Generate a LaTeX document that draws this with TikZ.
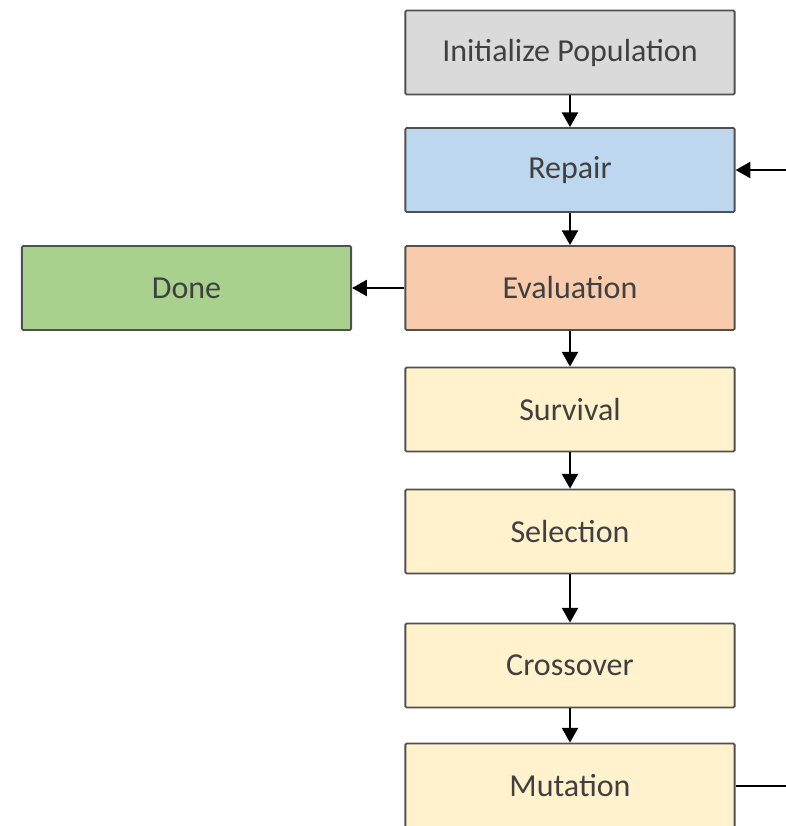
\documentclass[tikz,border=0pt]{standalone}
\usepackage{fontspec}
\setmainfont{Carlito}
\usetikzlibrary{arrows.meta}
\definecolor{boxline}{HTML}{505050}
\definecolor{boxtext}{HTML}{404040}
\definecolor{initfill}{HTML}{DADADA}
\definecolor{repairfill}{HTML}{BDD7EE}
\definecolor{evalfill}{HTML}{F8CBAD}
\definecolor{donefill}{HTML}{A9D18E}
\definecolor{opfill}{HTML}{FFF2CC}
\begin{document}
\begin{tikzpicture}[x=0.75pt, y=-0.75pt,
    stage/.style={draw=boxline, line width=1.4pt, rounded corners=1pt,
        minimum width=247pt, minimum height=63pt, inner sep=0pt,
        text=boxtext, font=\fontsize{24}{28}\selectfont},
    flow/.style={line width=1.5pt, -{Triangle[width=12pt,length=11pt]}}]
                \useasboundingbox (0,0) rectangle (786,826);

                \node[stage, fill=initfill] (init) at (570, 52.5) {Initialize Population};
                \node[stage, fill=repairfill] (repair) at (570, 170) {Repair};
                \node[stage, fill=evalfill] (eval) at (570, 288) {Evaluation};
                \node[stage, fill=donefill] (done) at (186.5, 288) {Done};
                \node[stage, fill=opfill] (surv) at (570, 409.5) {Survival};
                \node[stage, fill=opfill] (sel) at (570, 531.5) {Selection};
                \node[stage, fill=opfill] (cross) at (570, 665.5) {Crossover};
                \node[stage, fill=opfill] (mut) at (570, 785.5) {Mutation};

                \coordinate (loopin) at (790, 170);
                \coordinate (loopout) at (790, 785.5);

                \draw[flow] (init) -- (repair);
                \draw[flow] (repair) -- (eval);
                \draw[flow] (eval) -- (done);
                \draw[flow] (eval) -- (surv);
                \draw[flow] (surv) -- (sel);
                \draw[flow] (sel) -- (cross);
                \draw[flow] (cross) -- (mut);
                \draw[line width=1.5pt] (mut) -- (loopout);
                \draw[flow] (loopin) -- (repair);
            \end{tikzpicture}
\end{document}
